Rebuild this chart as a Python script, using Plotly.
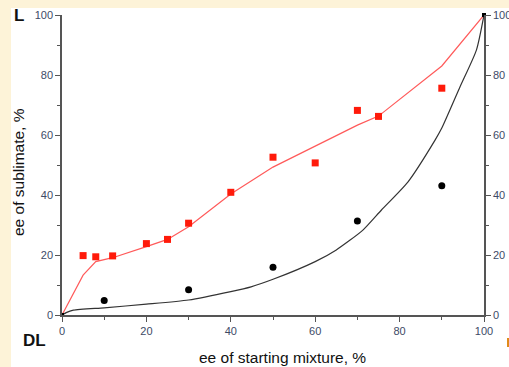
import plotly.graph_objects as go

# Experimental data: ee of sublimate vs ee of starting mixture
exp_red_x = [5, 8, 12, 20, 25, 30, 40, 50, 60, 70, 75, 90]
exp_red_y = [19.8, 19.4, 19.7, 23.8, 25.2, 30.6, 40.9, 52.6, 50.7, 68.2, 66.2, 75.6]

exp_black_x = [10, 30, 50, 70, 90]
exp_black_y = [4.8, 8.4, 15.9, 31.3, 43.1]

# Fitted (red) line through nodes
fit_red_x = [0, 5, 8, 12, 20, 25, 30, 40, 50, 60, 70, 75, 90, 100]
fit_red_y = [0, 13.3, 17.8, 19.1, 22.8, 25.2, 29.4, 40.3, 49.3, 56.3, 63.3, 66.3, 83.0, 100]

# Theoretical (black) curve
curve_x = [0, 1, 2.7, 10, 20, 30, 40, 44.8, 50, 60, 65, 71.3, 75.7, 82, 88.4, 90, 94.3, 98.2, 100]
curve_y = [0, 0.8, 1.6, 2.4, 3.6, 5.0, 7.8, 9.4, 11.9, 17.8, 21.7, 28.3, 35.0, 44.4, 58.3, 62.3, 76.0, 88.3, 100]

end_x = [0, 100]
end_y = [0, 100]

x_ticks = [0, 20, 40, 60, 80, 100]
y_ticks = [0, 20, 40, 60, 80, 100]

tick_color = "#3d4a66"
axis_color = "#555555"
font_family = "Liberation Sans, Arial, sans-serif"

fig = go.Figure()
fig.add_trace(go.Scatter(x=curve_x, y=curve_y, mode="lines", line_shape="spline",
                         line=dict(color="#333333", width=1.2, smoothing=0.6), showlegend=False))
fig.add_trace(go.Scatter(x=fit_red_x, y=fit_red_y, mode="lines",
                         line=dict(color="#ff5a5a", width=1.2), showlegend=False))
fig.add_trace(go.Scatter(x=exp_red_x, y=exp_red_y, mode="markers",
                         marker=dict(symbol="square", size=7, color="#ff1a0a"), showlegend=False))
fig.add_trace(go.Scatter(x=exp_black_x, y=exp_black_y, mode="markers",
                         marker=dict(symbol="circle", size=7, color="#000000"), showlegend=False))
fig.add_trace(go.Scatter(x=end_x, y=end_y, mode="markers",
                         marker=dict(symbol="square", size=4, color="#000000"),
                         cliponaxis=False, showlegend=False))
fig.add_trace(go.Scatter(x=[0, 100], y=[0, 100], mode="markers", yaxis="y2",
                         marker=dict(opacity=0), hoverinfo="skip", showlegend=False))

# plot area: x 62..484, y 15..315 (px)
L, R, T, B = 62, 484, 15, 315
W, H = R - L, B - T

def px_x(px):
    return (px - L) / W

def px_y(py):
    return (B - py) / H

axis_common = dict(
    showline=True, linecolor=axis_color, linewidth=1.5,
    ticks="outside", ticklen=5, tickwidth=1.2, tickcolor=axis_color,
    showgrid=False, zeroline=False, automargin=False,
    tickfont=dict(family=font_family, size=11, color=tick_color),
    minor=dict(ticks="outside", ticklen=3, tickwidth=1, tickcolor=axis_color, dtick=10),
)

def label(text, cx, cy, size, angle=0):
    return dict(text=text, xref="paper", yref="paper", x=px_x(cx), y=px_y(cy),
                xanchor="center", yanchor="middle", showarrow=False, textangle=angle,
                font=dict(family=font_family, size=size, color="#111111"))

fig.update_layout(
    width=509, height=367,
    margin=dict(l=L, r=509 - R, t=T, b=367 - B),
    paper_bgcolor="#fdf3d8",
    plot_bgcolor="rgba(0,0,0,0)",
    xaxis=dict(range=[0, 100], tickvals=x_ticks, **axis_common),
    yaxis=dict(range=[0, 100], tickvals=y_ticks, **axis_common),
    yaxis2=dict(range=[0, 100], tickvals=y_ticks, overlaying="y", side="right", **axis_common),
    shapes=[dict(type="rect", xref="paper", yref="paper",
                 x0=px_x(11), x1=px_x(515), y0=px_y(380), y1=px_y(8),
                 fillcolor="white", line=dict(width=0), layer="below"),
            dict(type="rect", xref="paper", yref="paper",
                 x0=px_x(507), x1=px_x(509), y0=px_y(347), y1=px_y(338),
                 fillcolor="#e08a1a", line=dict(width=0), layer="above")],
    annotations=[
        label("ee of starting mixture, %", 282, 357, 15.5),
        label("ee of sublimate, %", 18, 172, 15.5, -90),
        label("<b>L</b>", 19, 16, 17),
        label("<b>DL</b>", 34, 340, 17),
    ],
)

fig.write_html(
    "out.html",
    config={"displayModeBar": False},
    post_script="document.body.style.margin='0';document.body.style.padding='0';"
                "document.body.style.overflow='hidden';document.body.style.background='#ffffff';",
)
